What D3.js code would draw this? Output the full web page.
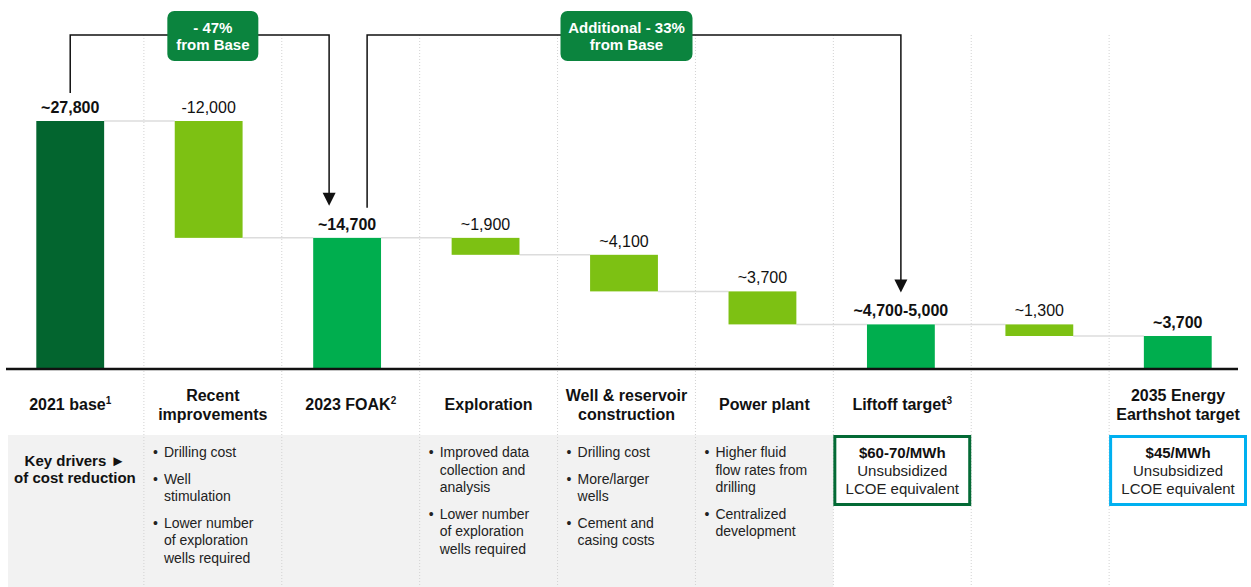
<!DOCTYPE html>
<html>
<head>
<meta charset="utf-8">
<script src="https://cdn.jsdelivr.net/npm/d3@7"></script>
<style>
  body { margin: 0; background: #fff; }
  svg { display: block; font-family: "Liberation Sans", Arial, sans-serif; }
</style>
</head>
<body>
<div id="chart"></div>
<script>
// ---- data ----
const steps = ["base", "recent", "foak", "exploration", "well", "power", "liftoff", "other", "earthshot"];
const stepTypes = ["total", "delta", "total", "delta", "delta", "delta", "total", "delta", "total"];
// deltas as drawn (totals are computed from the running level)
const stepValues = [27800, -13100, null, -1900, -4100, -3700, null, -1300, null];
const valueLabels = ["~27,800", "-12,000", "~14,700", "~1,900", "~4,100", "~3,700", "~4,700-5,000", "~1,300", "~3,700"];

const headerLines = [["2021 base"], ["Recent", "improvements"], ["2023 FOAK"], ["Exploration"],
  ["Well & reservoir", "construction"], ["Power plant"], ["Liftoff target"], [], ["2035 Energy", "Earthshot target"]];
const headerSup = ["1", "", "2", "", "", "", "3", "", ""];

const driverTitle = ["Key drivers \u25BA", "of cost reduction"];
const driverBullets = [
  [],
  [["Drilling cost"], ["Well", "stimulation"], ["Lower number", "of exploration", "wells required"]],
  [],
  [["Improved data", "collection and", "analysis"], ["Lower number", "of exploration", "wells required"]],
  [["Drilling cost"], ["More/larger", "wells"], ["Cement and", "casing costs"]],
  [["Higher fluid", "flow rates from", "drilling"], ["Centralized", "development"]],
  [], [], []
];

const targetSteps = ["liftoff", "earthshot"];
const targetPrices = ["$60-70/MWh", "$45/MWh"];
const targetNotes = ["Unsubsidized", "LCOE equivalent"];
const targetColors = ["#036a35", "#00b0f0"];

const calloutTexts = [["- 47%", "from Base"], ["Additional - 33%", "from Base"]];

const colors = {base: "#03652f", delta: "#7dc113", total: "#00ae4e", callout: "#0b843e"};

// ---- layout ----
const width = 1251, height = 587;
const svg = d3.select("#chart").append("svg")
    .attr("width", width)
    .attr("height", height);

const x = d3.scaleBand().domain(steps).range([1, 1247]);
const tableX = d3.scaleBand().domain(steps).range([6, 1247]);
const y = d3.scaleLinear().domain([0, 27800]).range([369, 121]);

// running levels for the waterfall
let level = 0;
const bars = steps.map((s, i) => {
  let d;
  if (stepTypes[i] === "total") {
    if (stepValues[i] !== null) level = stepValues[i];
    d = {step: s, y0: 0, y1: level, end: level};
  } else {
    const start = level;
    level += stepValues[i];
    d = {step: s, y0: level, y1: start, end: level};
  }
  d.type = stepTypes[i];
  d.label = valueLabels[i];
  return d;
});

const barW = x.bandwidth() * 0.49;
const cx = s => x(s) + x.bandwidth() / 2;

// gray band behind the drivers row
svg.append("rect")
    .attr("x", tableX("base") + 2)
    .attr("y", 435)
    .attr("width", tableX("liftoff") - tableX("base") - 2)
    .attr("height", height - 435)
    .attr("fill", "#f2f2f2");

// dotted column separators
svg.selectAll(".sep")
  .data(steps.slice(1))
  .enter().append("line")
    .attr("class", "sep")
    .attr("x1", d => tableX(d)).attr("x2", d => tableX(d))
    .attr("y1", 35).attr("y2", height)
    .attr("stroke", "#d2d2d2")
    .attr("stroke-width", 1)
    .attr("stroke-dasharray", "1,2");

// connectors between bars
svg.selectAll(".connector")
  .data(bars.slice(0, -1))
  .enter().append("line")
    .attr("class", "connector")
    .attr("x1", d => cx(d.step) + barW / 2)
    .attr("x2", (d, i) => cx(bars[i + 1].step) - barW / 2)
    .attr("y1", d => y(d.end)).attr("y2", d => y(d.end))
    .attr("stroke", "#dcdcdc")
    .attr("stroke-width", 1.5);

// bars
svg.selectAll(".bar")
  .data(bars)
  .enter().append("rect")
    .attr("class", "bar")
    .attr("x", d => cx(d.step) - barW / 2)
    .attr("y", d => y(d.y1))
    .attr("width", barW)
    .attr("height", d => y(d.y0) - y(d.y1))
    .attr("fill", (d, i) => i === 0 ? colors.base : (d.type === "total" ? colors.total : colors.delta));

// value labels
svg.selectAll(".val")
  .data(bars)
  .enter().append("text")
    .attr("class", "val")
    .attr("x", d => cx(d.step))
    .attr("y", d => y(d.y1) - 8)
    .attr("text-anchor", "middle")
    .attr("font-size", "16px")
    .attr("font-weight", d => d.type === "total" ? "bold" : "normal")
    .attr("fill", "#111")
    .text(d => d.label);

// baseline
svg.append("line")
    .attr("x1", 6).attr("x2", 1238)
    .attr("y1", y(0)).attr("y2", y(0))
    .attr("stroke", "#111")
    .attr("stroke-width", 2.5);

// brackets with arrows
const topY = 35;
const foakTop = y(bars[2].end), liftTop = y(bars[6].end);
const brackets = [
  {pts: [[cx("base"), y(bars[0].end) - 28], [cx("base"), topY], [cx("foak") - 18, topY], [cx("foak") - 18, foakTop - 32]], box: "recent"},
  {pts: [[cx("foak") + 20, foakTop - 30], [cx("foak") + 20, topY], [cx("liftoff"), topY], [cx("liftoff"), liftTop - 32]], box: "well"}
];
const line = d3.line();
brackets.forEach((b, i) => {
  const tip = b.pts[3];
  const pts = b.pts.slice(0, 3).concat([[tip[0], tip[1] - 12]]);
  svg.append("path")
      .attr("d", line(pts))
      .attr("fill", "none")
      .attr("stroke", "#111")
      .attr("stroke-width", 1.5);
  svg.append("path")
      .attr("d", `M${tip[0]},${tip[1]} L${tip[0] - 6.5},${tip[1] - 13} L${tip[0] + 6.5},${tip[1] - 13} Z`)
      .attr("fill", "#111");

  // callout box
  const bx = tableX(b.box) + tableX.bandwidth() / 2;
  const bw = i === 0 ? 91 : 132;
  svg.append("rect")
      .attr("x", bx - bw / 2).attr("y", 11)
      .attr("width", bw).attr("height", 50)
      .attr("rx", 7)
      .attr("fill", colors.callout);
  calloutTexts[i].forEach((t, j) => {
    svg.append("text")
        .attr("x", bx)
        .attr("y", 33 + j * 17)
        .attr("text-anchor", "middle")
        .attr("font-size", "15px")
        .attr("font-weight", "bold")
        .attr("fill", "#fff")
        .text(t);
  });
});

// category headers (first one sits over its bar)
steps.forEach((s, i) => {
  const lines = headerLines[i];
  if (!lines.length) return;
  const hx = i === 0 ? cx(s) : tableX(s) + tableX.bandwidth() / 2;
  const y0 = lines.length === 1 ? 410 : 401;
  lines.forEach((t, j) => {
    const txt = svg.append("text")
        .attr("x", hx)
        .attr("y", y0 + j * 19)
        .attr("text-anchor", "middle")
        .attr("font-size", "16px")
        .attr("font-weight", "bold")
        .attr("fill", "#111")
        .text(t);
    if (j === lines.length - 1 && headerSup[i]) {
      txt.append("tspan")
          .attr("dy", -6)
          .attr("font-size", "10px")
          .text(headerSup[i]);
    }
  });
});

// key drivers title
driverTitle.forEach((t, j) => {
  svg.append("text")
      .attr("x", tableX("base") + tableX.bandwidth() / 2)
      .attr("y", 466 + j * 17)
      .attr("text-anchor", "middle")
      .attr("font-size", "15px")
      .attr("font-weight", "bold")
      .attr("fill", "#111")
      .text(t);
});

// bullet lists
steps.forEach((s, i) => {
  let by = 457;
  driverBullets[i].forEach(item => {
    svg.append("text")
        .attr("x", tableX(s) + 9)
        .attr("y", by)
        .attr("font-size", "14px")
        .attr("fill", "#222")
        .text("\u2022");
    item.forEach(t => {
      svg.append("text")
          .attr("x", tableX(s) + 20)
          .attr("y", by)
          .attr("font-size", "14px")
          .attr("fill", "#222")
          .text(t);
      by += 17.5;
    });
    by += 9;
  });
});

// target boxes
targetSteps.forEach((s, i) => {
  const bx = tableX(s) + 1.5;
  const bw = tableX.bandwidth() - 3;
  svg.append("rect")
      .attr("x", bx).attr("y", 436.5)
      .attr("width", bw).attr("height", 68)
      .attr("fill", "#fff")
      .attr("stroke", targetColors[i])
      .attr("stroke-width", 3);
  const mx = bx + bw / 2;
  svg.append("text")
      .attr("x", mx).attr("y", 458)
      .attr("text-anchor", "middle")
      .attr("font-size", "15px")
      .attr("font-weight", "bold")
      .attr("fill", "#111")
      .text(targetPrices[i]);
  targetNotes.forEach((t, j) => {
    svg.append("text")
        .attr("x", mx).attr("y", 476 + j * 17.5)
        .attr("text-anchor", "middle")
        .attr("font-size", "15px")
        .attr("fill", "#222")
        .text(t);
  });
});
</script>
</body>
</html>
